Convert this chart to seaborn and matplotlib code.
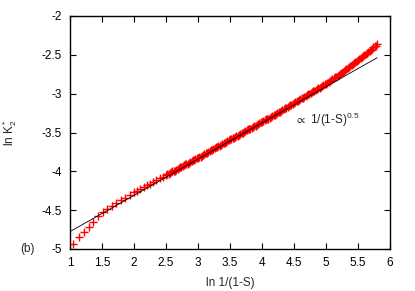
import numpy as np
import pandas as pd
import seaborn as sns
import matplotlib.pyplot as plt

# data points
x_pts = [1.05, 1.14, 1.22, 1.29, 1.36, 1.44, 1.51, 1.58, 1.65, 1.72, 1.79, 1.86, 1.93,
         2.00, 2.05, 2.10, 2.15, 2.20, 2.25, 2.30, 2.35, 2.40, 2.45,
         2.50, 2.52, 2.54, 2.56, 2.58, 2.60, 2.62, 2.64, 2.66, 2.68, 2.70, 2.72, 2.74,
         2.76, 2.78, 2.80, 2.82, 2.84, 2.86, 2.88, 2.90, 2.92, 2.94, 2.96, 2.98, 3.00,
         3.02, 3.04, 3.06, 3.08, 3.10, 3.12, 3.14, 3.16, 3.18, 3.20, 3.22, 3.24, 3.26,
         3.28, 3.30, 3.32, 3.34, 3.36, 3.38, 3.40, 3.42, 3.44, 3.46, 3.48, 3.50, 3.52,
         3.54, 3.56, 3.58, 3.60, 3.62, 3.64, 3.66, 3.68, 3.70, 3.72, 3.74, 3.76, 3.78,
         3.80, 3.82, 3.84, 3.86, 3.88, 3.90, 3.92, 3.94, 3.96, 3.98, 4.00, 4.02, 4.04,
         4.06, 4.08, 4.10, 4.12, 4.14, 4.16, 4.18, 4.20, 4.22, 4.24, 4.26, 4.28, 4.30,
         4.32, 4.34, 4.36, 4.38, 4.40, 4.42, 4.44, 4.46, 4.48, 4.50, 4.52, 4.54, 4.56,
         4.58, 4.60, 4.62, 4.64, 4.66, 4.68, 4.70, 4.72, 4.74, 4.76, 4.78, 4.80, 4.82,
         4.84, 4.86, 4.88, 4.90, 4.92, 4.94, 4.96, 4.98, 5.00, 5.02, 5.04, 5.06, 5.08,
         5.10, 5.12, 5.14, 5.16, 5.18, 5.20, 5.22, 5.24, 5.26, 5.28, 5.30, 5.32, 5.34,
         5.36, 5.38, 5.40, 5.42, 5.44, 5.46, 5.48, 5.50, 5.52, 5.54, 5.56, 5.58, 5.60,
         5.62, 5.64, 5.66, 5.68, 5.70, 5.72, 5.74, 5.76, 5.78, 5.80]
y_pts = [-4.93, -4.85, -4.78, -4.72, -4.65, -4.58, -4.53, -4.49, -4.45, -4.41, -4.37, -4.34, -4.30,
         -4.27, -4.25, -4.23, -4.20, -4.18, -4.16, -4.14, -4.11, -4.09, -4.07,
         -4.05, -4.04, -4.03, -4.02, -4.01, -4.00, -3.99, -3.99, -3.98, -3.97, -3.96, -3.95, -3.94,
         -3.93, -3.92, -3.91, -3.90, -3.90, -3.89, -3.88, -3.87, -3.86, -3.85, -3.84, -3.83, -3.83,
         -3.82, -3.81, -3.80, -3.79, -3.78, -3.77, -3.76, -3.75, -3.74, -3.73, -3.72, -3.71, -3.70,
         -3.69, -3.69, -3.68, -3.67, -3.66, -3.65, -3.64, -3.63, -3.62, -3.61, -3.60, -3.59, -3.58,
         -3.57, -3.57, -3.56, -3.55, -3.54, -3.53, -3.52, -3.51, -3.50, -3.49, -3.48, -3.47, -3.46,
         -3.45, -3.45, -3.44, -3.43, -3.42, -3.41, -3.40, -3.39, -3.38, -3.37, -3.36, -3.35, -3.34,
         -3.33, -3.32, -3.32, -3.31, -3.30, -3.29, -3.28, -3.27, -3.26, -3.25, -3.24, -3.23, -3.22,
         -3.21, -3.20, -3.19, -3.18, -3.17, -3.16, -3.15, -3.14, -3.13, -3.12, -3.11, -3.10, -3.09,
         -3.08, -3.07, -3.06, -3.05, -3.04, -3.03, -3.02, -3.01, -3.00, -2.99, -2.98, -2.97, -2.96,
         -2.95, -2.94, -2.93, -2.925, -2.91, -2.90, -2.89, -2.88, -2.87, -2.86, -2.85, -2.84, -2.825,
         -2.815, -2.80, -2.79, -2.78, -2.77, -2.755, -2.745, -2.73, -2.72, -2.71, -2.695, -2.685, -2.67,
         -2.66, -2.645, -2.635, -2.62, -2.61, -2.595, -2.585, -2.57, -2.56, -2.545, -2.53, -2.52, -2.505,
         -2.49, -2.475, -2.46, -2.45, -2.435, -2.42, -2.405, -2.39, -2.38, -2.365]

# reference power-law line (end points)
x_fit = [1.0, 5.8]
y_fit = [-4.776, -2.537]

x_ticks = [1, 1.5, 2, 2.5, 3, 3.5, 4, 4.5, 5, 5.5, 6]
y_ticks = [-5, -4.5, -4, -3.5, -3, -2.5, -2]

sns.set_style("ticks")
plt.rcParams['font.family'] = ['Liberation Sans', 'DejaVu Sans']
plt.rcParams['mathtext.fontset'] = 'custom'
plt.rcParams['mathtext.rm'] = 'Liberation Sans'
plt.rcParams['mathtext.it'] = 'Liberation Sans'
plt.rcParams['mathtext.fallback'] = 'stixsans'

fs = 8.5
fig = plt.figure(figsize=(4.15, 2.91), dpi=100)
ax = fig.add_axes([70 / 415, 1 - 249 / 291, 320 / 415, 233 / 291])

df = pd.DataFrame({"x": x_pts, "y": y_pts})
sns.scatterplot(data=df, x="x", y="y", marker="+", color="red", s=32,
                linewidth=1.0, ax=ax, zorder=2)
sns.lineplot(x=x_fit, y=y_fit, color="black", linewidth=0.6, ax=ax, zorder=3)

ax.set_xlim(1, 6)
ax.set_ylim(-5, -2)
ax.set_xticks(x_ticks)
ax.set_xticklabels(["1", "1.5", "2", "2.5", "3", "3.5", "4", "4.5", "5", "5.5", "6"])
ax.set_yticks(y_ticks)
ax.set_yticklabels(["-5", "-4.5", "-4", "-3.5", "-3", "-2.5", "-2"])
ax.tick_params(direction="in", length=4, width=0.8, top=True, right=True,
               labelsize=fs, pad=6, colors="black")
for sp in ax.spines.values():
    sp.set_linewidth(1.0)
    sp.set_color("black")

ax.set_xlabel("ln 1/(1-S)", fontsize=fs)
ax.set_ylabel("ln K$_2^*$", fontsize=fs)
ax.xaxis.set_label_coords(0.5, -0.12)
ax.yaxis.set_label_coords(-0.16, 0.5)
ax.text(4.52, -3.34, "$\\propto$ 1/(1-S)$^{0.5}$", fontsize=fs, va="center", ha="left")
fig.text(20 / 415, 1 - 249 / 291, "(b)", fontsize=fs, va="center", ha="left")

fig.savefig("out.png", dpi=100)
